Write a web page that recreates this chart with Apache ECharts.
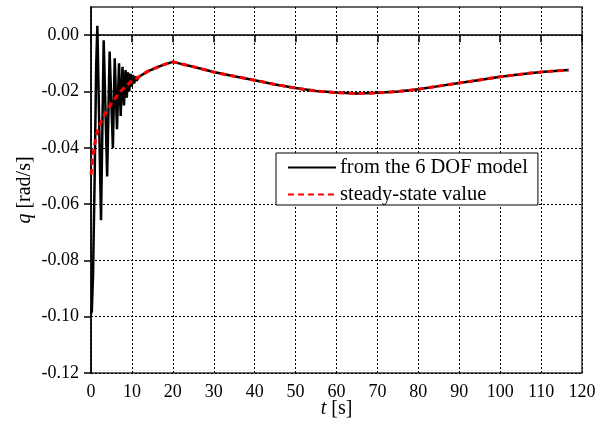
<!DOCTYPE html>
<html>
<head>
<meta charset="utf-8">
<script src="https://cdn.jsdelivr.net/npm/echarts@6/dist/echarts.min.js"></script>
<style>
  html, body { margin: 0; padding: 0; background: #fff; }
  #chart { width: 611px; height: 431px; }
</style>
</head>
<body>
<div id="chart"></div>
<script>
// Pitch rate q [rad/s] versus time t [s]

// Steady-state value (red dashed)
const steadyT = [0, 0.5, 1, 1.5, 2.5, 3.5, 4.5, 5.5, 6.5, 7.5, 8.5, 10, 12, 14, 16, 18, 20, 22, 25, 30, 35, 40, 45, 50, 55, 60, 65, 70, 75, 80, 85, 90, 95, 100, 105, 110, 116.7];
const steadyQ = [-0.0496, -0.0425, -0.0380, -0.0345, -0.0306, -0.0278, -0.0254, -0.0232, -0.0213, -0.0196, -0.0182, -0.0163, -0.0145, -0.0128, -0.0115, -0.0104, -0.0095, -0.0102, -0.0112, -0.0131, -0.0146, -0.0160, -0.0175, -0.0188, -0.0198, -0.0204, -0.0207, -0.0205, -0.0200, -0.0192, -0.0181, -0.0170, -0.0159, -0.0148, -0.0139, -0.0131, -0.0124];

// 6 DOF model: initial transient, after which it settles onto the steady-state curve
const dofT = [0, 0.2, 0.5, 0.9, 1.25, 1.55, 2.45, 3.1, 3.95, 4.55, 5.35, 5.8, 6.35, 6.85, 7.25, 7.7, 8.05, 8.45, 8.75, 9.05, 9.35, 9.65, 9.95, 10.25, 10.55, 10.85, 11.15, 11.5];
const dofQ = [-0.0990, -0.0980, -0.0850, -0.0500, -0.0120, 0.0033, -0.0657, -0.0018, -0.0502, -0.0058, -0.0402, -0.0082, -0.0334, -0.0100, -0.0287, -0.0112, -0.0250, -0.0124, -0.0222, -0.0132, -0.0200, -0.0137, -0.0184, -0.0141, -0.0172, -0.0146, -0.0162, -0.0153];
const dofTailStart = 12; // from here the model output coincides with the steady-state values

// Axis ticks
const xTicks = [0, 10, 20, 30, 40, 50, 60, 70, 80, 90, 100, 110, 120];
const yTicks = [-0.12, -0.10, -0.08, -0.06, -0.04, -0.02, 0.00];

const seriesNames = ['from the 6 DOF model', 'steady-state value'];

const steadyData = steadyT.map((t, i) => [t, steadyQ[i]]);
const dofData = dofT.map((t, i) => [t, dofQ[i]])
  .concat(steadyData.filter(p => p[0] >= dofTailStart));

const serif = "'Liberation Serif', 'Times New Roman', serif";

const chart = echarts.init(document.getElementById('chart'), null, { renderer: 'canvas' });
chart.setOption({
  animation: false,
  backgroundColor: '#fff',
  textStyle: { fontFamily: serif, color: '#000' },
  grid: {
    left: 91, right: 29, top: 7, bottom: 58,
    show: true, borderColor: '#333', borderWidth: 1.5, backgroundColor: 'transparent'
  },
  legend: {
    orient: 'vertical',
    left: 276, top: 153,
    padding: [4, 10, 0, 11],
    itemWidth: 48, itemHeight: 20, itemGap: 6,
    borderColor: '#000', borderWidth: 1,
    backgroundColor: '#fff',
    itemStyle: { opacity: 0 },
    textStyle: { fontFamily: serif, fontSize: 20.5, color: '#000', padding: [0, 0, 0, -1] },
    data: seriesNames
  },
  xAxis: {
    type: 'value',
    min: xTicks[0], max: xTicks[xTicks.length - 1], interval: 10,
    name: '{i|t} [s]',
    nameLocation: 'middle', nameGap: 26, nameMoveOverlap: false,
    nameTextStyle: {
      fontFamily: serif, fontSize: 20, color: '#000',
      rich: { i: { fontFamily: serif, fontSize: 20, fontStyle: 'italic' } }
    },
    axisLine: { lineStyle: { color: '#000', width: 1.5 } },
    axisTick: { inside: false, length: 7, lineStyle: { color: '#000', width: 1.5 } },
    axisLabel: { fontFamily: serif, fontSize: 18, color: '#000', margin: 10 },
    splitLine: { show: true, lineStyle: { color: '#000', type: [2, 2], width: 1 } }
  },
  yAxis: {
    type: 'value',
    min: -0.12, max: 0.01, interval: 0.02,
    name: '{i|q} [rad/s]',
    nameLocation: 'middle', nameGap: 56, nameRotate: 90, nameMoveOverlap: false,
    nameTextStyle: {
      fontFamily: serif, fontSize: 20, color: '#000',
      rich: { i: { fontFamily: serif, fontSize: 20, fontStyle: 'italic' } }
    },
    axisLine: { lineStyle: { color: '#000', width: 1.5 } },
    axisTick: { inside: false, length: 7, customValues: yTicks, lineStyle: { color: '#000', width: 1.5 } },
    axisLabel: {
      fontFamily: serif, fontSize: 18, color: '#000', margin: 12,
      customValues: yTicks,
      formatter: v => v.toFixed(2)
    },
    splitLine: { show: true, lineStyle: { color: '#000', type: [2, 2], width: 1 } }
  },
  series: [
    {
      name: seriesNames[0],
      type: 'line',
      data: dofData,
      showSymbol: false, symbol: 'none',
      lineStyle: { color: '#000', width: 2.5 },
      itemStyle: { color: '#000' },
      z: 2
    },
    {
      name: seriesNames[1],
      type: 'line',
      data: steadyData,
      smooth: 0.3,
      showSymbol: false, symbol: 'none',
      lineStyle: { color: '#ff0000', width: 3, type: [6, 4] },
      itemStyle: { color: '#ff0000' },
      z: 3
    }
  ]
});
</script>
</body>
</html>
